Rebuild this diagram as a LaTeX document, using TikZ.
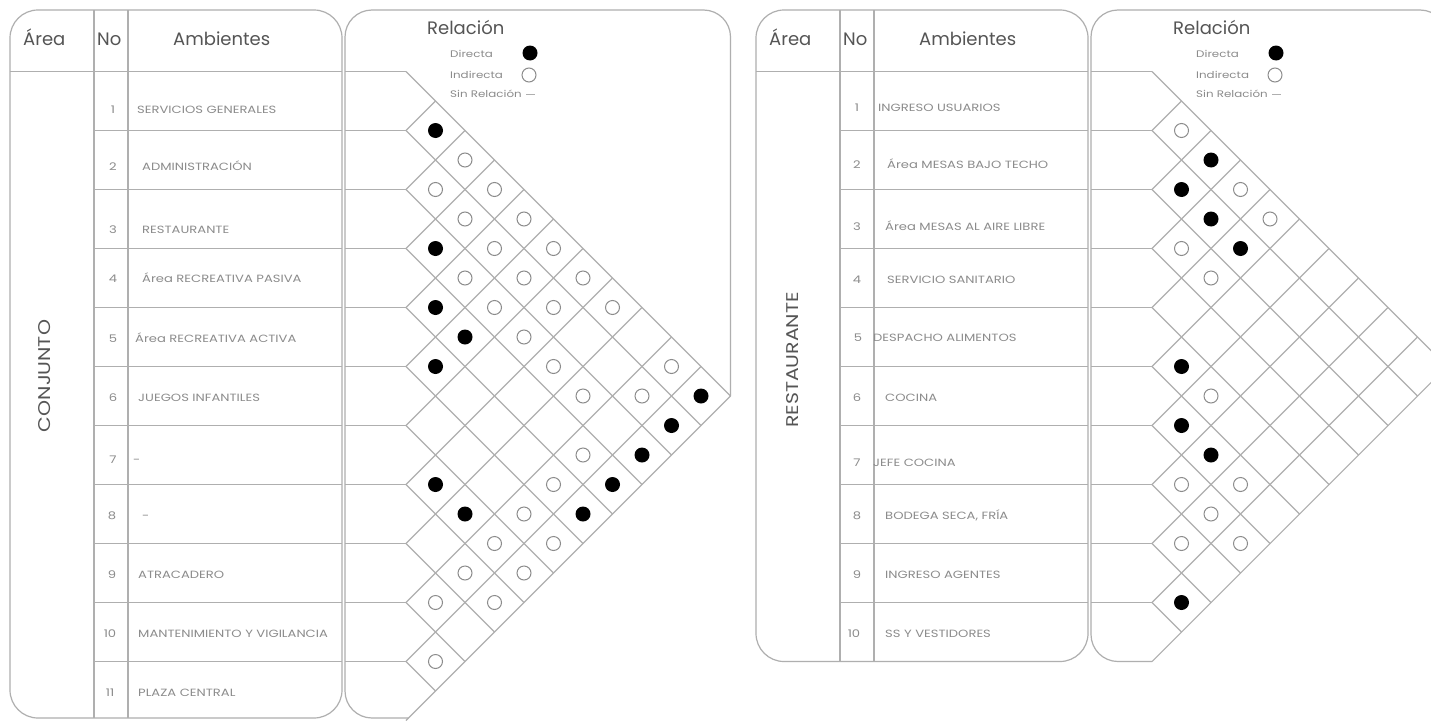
\documentclass[tikz,border=0pt]{standalone}
\usepackage{fontspec}
\setmainfont{Poppins}
\newfontfamily\widefont[FakeStretch=1.25]{Poppins}
\newfontfamily\areafont[FakeStretch=1.2]{Poppins}
\definecolor{linegray}{HTML}{AFAFAF}
\definecolor{headgray}{HTML}{555555}
\definecolor{txtgray}{HTML}{8C8C8C}
\tikzset{
  frame/.style={draw=linegray, line width=1.2pt},
  gridline/.style={draw=linegray, line width=1.1pt},
  headtxt/.style={text=headgray, font=\fontsize{18}{20}\selectfont, inner sep=0pt, anchor=base west},
  areatxt/.style={text=headgray, font=\areafont\fontsize{17}{19}\selectfont, inner sep=0pt, rotate=90},
  rowtxt/.style={text=txtgray, font=\widefont\fontsize{10.5}{12}\selectfont, inner sep=0pt, anchor=base west},
  numtxt/.style={text=txtgray, font=\widefont\fontsize{10.5}{12}\selectfont, inner sep=0pt, anchor=base},
  legtxt/.style={text=txtgray, font=\widefont\fontsize{9.5}{11}\selectfont, inner sep=0pt, anchor=base west},
  reltitle/.style={text=headgray, font=\fontsize{18}{20}\selectfont, inner sep=0pt, anchor=base west},
  direct/.style={circle, fill=black, minimum size=15pt, inner sep=0pt},
  indirect/.style={circle, draw=txtgray, line width=1pt, minimum size=14pt, inner sep=0pt},
}
% cell (i,j) of a relation grid
\newcommand\cellD[3]{\node[direct] (#1-#2-#3) at ({406+29.5*(#3-#2)},{71.5+29.5*(#2+#3-1)}) {};}
\newcommand\cellI[3]{\node[indirect] (#1-#2-#3) at ({406+29.5*(#3-#2)},{71.5+29.5*(#2+#3-1)}) {};}
% grid of N rows
\newcommand\relgrid[1]{%
  \foreach \k in {0,...,#1}{%
    \pgfmathsetmacro\yk{71.5+59*\k}%
    \pgfmathsetmacro\dn{(#1-\k)*29.5}%
    \pgfmathsetmacro\up{\k*29.5}%
    \draw[gridline] (406,\yk) -- ++(\dn,\dn);
    \draw[gridline] (406,\yk) -- ++(\up,-\up);
  }%
  \pgfmathtruncatemacro\last{#1-1}%
  \foreach \k in {0,...,\last}{%
    \pgfmathsetmacro\yk{71.5+59*\k}%
    \draw[gridline] (345,\yk) -- (406,\yk);
  }%
}
% table header, columns, legend
\newcommand\tablehead[2]{% #1 prefix, #2 bottom y
  \draw[frame, rounded corners=28pt] (10,10) rectangle (342,#2);
  \draw[frame] (10,71.5) -- (342,71.5);
  \draw[frame] (94,10) -- (94,#2);
  \draw[frame] (128,10) -- (128,#2);
  \node[headtxt] (#1-harea) at (23,45) {Área};
  \node[headtxt] (#1-hno) at (97,45) {No};
  \node[headtxt] (#1-hamb) at (173,45) {Ambientes};
  \node[reltitle] (#1-rel) at (427,34) {Relación};
  \node[legtxt] (#1-ld) at (450,57) {Directa};
  \node[legtxt] (#1-li) at (450,78) {Indirecta};
  \node[legtxt] (#1-ls) at (450,97) {Sin Relación};
  \node[direct] (#1-dd) at (530,53) {};
  \node[indirect] (#1-di) at (529,75) {};
  \draw[gridline, line width=0.6pt] (526,94) -- (535,94);
}
\begin{document}
\begin{tikzpicture}[x=1pt,y=-1pt]
\useasboundingbox (0,0) rectangle (1431,720);
\clip (0,0) rectangle (1431,720);
\fill[white] (0,0) rectangle (1431,720);

%%%%%%%%%%%%%%%% LEFT: CONJUNTO %%%%%%%%%%%%%%%%
\tablehead{L}{718}
\foreach \k in {1,...,10}{\pgfmathsetmacro\yk{71.5+59*\k}\draw[frame] (94,\yk) -- (342,\yk);}
\draw[frame, rounded corners=27pt] (408.5,718) -- (345,718) -- (345,10) -- (730.5,10) -- (730.5,396);
\relgrid{11}
\node[areatxt] (L-area) at (45,376) {CONJUNTO};

\node[numtxt] (L-n1) at (113,113) {1};  \node[rowtxt] (L-t1) at (137,113) {SERVICIOS GENERALES};
\node[numtxt] (L-n2) at (113,170) {2};  \node[rowtxt] (L-t2) at (142,170) {ADMINISTRACIÓN};
\node[numtxt] (L-n3) at (113,233) {3};  \node[rowtxt] (L-t3) at (142,233) {RESTAURANTE};
\node[numtxt] (L-n4) at (113,282) {4};  \node[rowtxt] (L-t4) at (142,282) {Área RECREATIVA PASIVA};
\node[numtxt] (L-n5) at (113,342) {5};  \node[rowtxt] (L-t5) at (135,342) {Área RECREATIVA ACTIVA};
\node[numtxt] (L-n6) at (113,401) {6};  \node[rowtxt] (L-t6) at (138,401) {JUEGOS INFANTILES};
\node[numtxt] (L-n7) at (113,463) {7};  \node[rowtxt] (L-t7) at (133,463) {-};
\node[numtxt] (L-n8) at (112,519) {8};  \node[rowtxt] (L-t8) at (142,519) {-};
\node[numtxt] (L-n9) at (112,578) {9};  \node[rowtxt] (L-t9) at (138,578) {ATRACADERO};
\node[numtxt] (L-n10) at (110,637) {10}; \node[rowtxt] (L-t10) at (138,637) {MANTENIMIENTO Y VIGILANCIA};
\node[numtxt] (L-n11) at (110,696) {11}; \node[rowtxt] (L-t11) at (138,696) {PLAZA CENTRAL};

% direct
\cellD{L}{1}{2}\cellD{L}{3}{4}\cellD{L}{4}{5}\cellD{L}{4}{6}\cellD{L}{5}{6}
\cellD{L}{1}{11}\cellD{L}{2}{11}\cellD{L}{3}{11}\cellD{L}{4}{11}\cellD{L}{5}{11}
\cellD{L}{7}{8}\cellD{L}{7}{9}
% indirect
\cellI{L}{1}{3}\cellI{L}{2}{3}\cellI{L}{1}{4}\cellI{L}{2}{4}\cellI{L}{1}{5}
\cellI{L}{2}{5}\cellI{L}{1}{6}\cellI{L}{3}{5}\cellI{L}{2}{6}\cellI{L}{1}{7}
\cellI{L}{3}{6}\cellI{L}{2}{7}\cellI{L}{1}{8}\cellI{L}{3}{7}\cellI{L}{3}{8}
\cellI{L}{1}{10}\cellI{L}{3}{9}\cellI{L}{2}{10}\cellI{L}{4}{10}\cellI{L}{5}{10}
\cellI{L}{6}{10}\cellI{L}{7}{10}\cellI{L}{6}{11}\cellI{L}{8}{10}\cellI{L}{7}{11}
\cellI{L}{9}{10}\cellI{L}{8}{11}\cellI{L}{10}{11}

%%%%%%%%%%%%%%%% RIGHT: RESTAURANTE %%%%%%%%%%%%%%%%
\begin{scope}[xshift=746pt]
\tablehead{R}{661.5}
\foreach \k in {1,...,9}{\pgfmathsetmacro\yk{71.5+59*\k}\draw[frame] (94,\yk) -- (342,\yk);}
\draw[frame, rounded corners=27pt] (406,661.5) -- (345,661.5) -- (345,10) -- (701,10) -- (701,366.5);
\relgrid{10}
\node[areatxt] (R-area) at (47,360) {RESTAURANTE};

\node[numtxt] (R-n1) at (111,111) {1};  \node[rowtxt] (R-t1) at (132,111) {INGRESO USUARIOS};
\node[numtxt] (R-n2) at (111,168) {2};  \node[rowtxt] (R-t2) at (141,168) {Área MESAS BAJO TECHO};
\node[numtxt] (R-n3) at (111,230) {3};  \node[rowtxt] (R-t3) at (139,230) {Área MESAS AL AIRE LIBRE};
\node[numtxt] (R-n4) at (111,283) {4};  \node[rowtxt] (R-t4) at (141,283) {SERVICIO SANITARIO};
\node[numtxt] (R-n5) at (112,341) {5};  \node[rowtxt] (R-t5) at (127,341) {DESPACHO ALIMENTOS};
\node[numtxt] (R-n6) at (111,401) {6};  \node[rowtxt] (R-t6) at (139,401) {COCINA};
\node[numtxt] (R-n7) at (111,466) {7};  \node[rowtxt] (R-t7) at (127,466) {JEFE COCINA};
\node[numtxt] (R-n8) at (111,519) {8};  \node[rowtxt] (R-t8) at (139,519) {BODEGA SECA, FRÍA};
\node[numtxt] (R-n9) at (111,578) {9};  \node[rowtxt] (R-t9) at (139,578) {INGRESO AGENTES};
\node[numtxt] (R-n10) at (108,637) {10}; \node[rowtxt] (R-t10) at (139,637) {SS Y VESTIDORES};

\cellD{R}{1}{3}\cellD{R}{2}{3}\cellD{R}{2}{4}\cellD{R}{2}{5}
\cellD{R}{5}{6}\cellD{R}{6}{7}\cellD{R}{6}{8}\cellD{R}{9}{10}
\cellI{R}{1}{2}\cellI{R}{1}{4}\cellI{R}{1}{5}\cellI{R}{3}{4}\cellI{R}{3}{5}
\cellI{R}{5}{7}\cellI{R}{7}{8}\cellI{R}{6}{9}\cellI{R}{7}{9}\cellI{R}{8}{9}
\cellI{R}{7}{10}
\end{scope}
\end{tikzpicture}
\end{document}
